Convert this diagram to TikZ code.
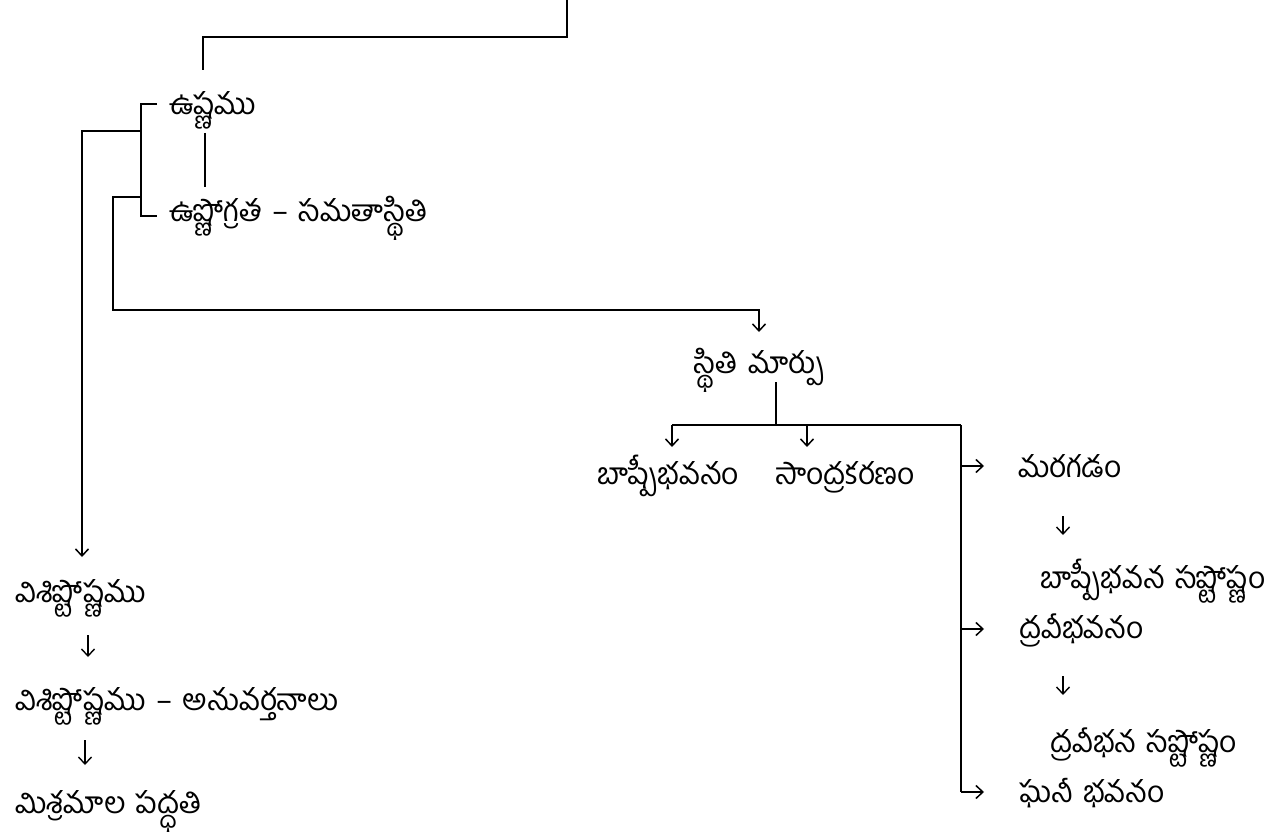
\documentclass[tikz,border=0pt]{standalone}
\usepackage{fontspec}
\newfontfamily\tel[Script=Telugu,WordSpace=1.4]{Hind Guntur}
\usetikzlibrary{arrows.meta}
\begin{document}
\begin{tikzpicture}[x=1pt,y=-1pt,
  lbl/.style={font=\tel\fontsize{30}{34}\selectfont, anchor=base west, inner sep=0pt},
  conn/.style={line width=1.9pt},
  thinconn/.style={line width=1.3pt},
  arr/.style={line width=1.9pt, -{Straight Barb[length=7pt,width=13pt,line width=1.5pt]}},
  garr/.style={line width=1.4pt, -{Straight Barb[length=7pt,width=13pt,line width=1.4pt]}}]
\useasboundingbox (0,0) rectangle (1280,837);
% text nodes
\node[lbl] (ushn) at (169,115) {ఉష్ణము};
\node[lbl] (samat) at (169,222) {ఉష్ణోగ్రత – సమతాస్థితి};
\node[lbl] (sthiti) at (694,373) {స్థితి మార్పు};
\node[lbl] (bashp) at (597,484) {బాష్పీభవనం};
\node[lbl] (sandra) at (775,484) {సాంద్రకరణం};
\node[lbl] (maraga) at (1018,477) {మరగడం};
\node[lbl] (bsh) at (1040,588) {బాష్పీభవన సష్టోష్ణం};
\node[lbl] (drav) at (1019,638) {ద్రవీభవనం};
\node[lbl] (dsh) at (1050,752) {ద్రవీభన సష్టోష్ణం};
\node[lbl] (ghani) at (1019,802) {ఘనీ భవనం};
\node[lbl] (vis) at (15,602) {విశిష్టోష్ణము};
\node[lbl] (visanu) at (15,710) {విశిష్టోష్ణము – అనువర్తనాలు};
\node[lbl] (misra) at (15,813) {మిశ్రమాల పద్ధతి};
% coordinates
\coordinate (top) at (567,0);
\coordinate (t1) at (203,70);
\coordinate (b1) at (157,104);
\coordinate (b2) at (157,216);
\coordinate (m1) at (205,133);
\coordinate (m2) at (205,187);
\coordinate (l1) at (141,131);
\coordinate (l1e) at (82,557);
\coordinate (l2) at (141,197);
\coordinate (l2e) at (759,332);
\coordinate (s1) at (776,382);
\coordinate (s2) at (776,425);
\coordinate (a1) at (672,447);
\coordinate (a2) at (807,447);
\coordinate (rv) at (961,425);
\coordinate (r1) at (984,466);
\coordinate (r2) at (984,629);
\coordinate (r3) at (984,792);
% connectors
\draw[conn] (top) -- ++(0,37) -| (t1);
\draw[conn] (b1) -- ++(-16,0) -- ++(0,112) -- (b2);
\draw[thinconn] (m1) -- (m2);
\draw[arr] (l1) -| (l1e);
\draw[arr] (l2) -- ++(-28,0) |- (759,310) -- (l2e);
\draw[conn] (s1) -- (s2);
\draw[conn] (a1 |- s2) -- (rv);
\draw[arr] (a1 |- s2) -- (a1);
\draw[arr] (a2 |- s2) -- (a2);
\draw[conn] (rv) -- (961,792);
\draw[arr] (r1 -| rv) -- (r1);
\draw[arr] (r2 -| rv) -- (r2);
\draw[arr] (r3 -| rv) -- (r3);
% glyph-like arrows
\draw[garr] (1063,516) -- (1063,535);
\draw[garr] (1063,676) -- (1063,695);
\draw[garr] (88,635) -- (88,657);
\draw[garr] (85,740) -- (85,765);
\end{tikzpicture}
\end{document}
